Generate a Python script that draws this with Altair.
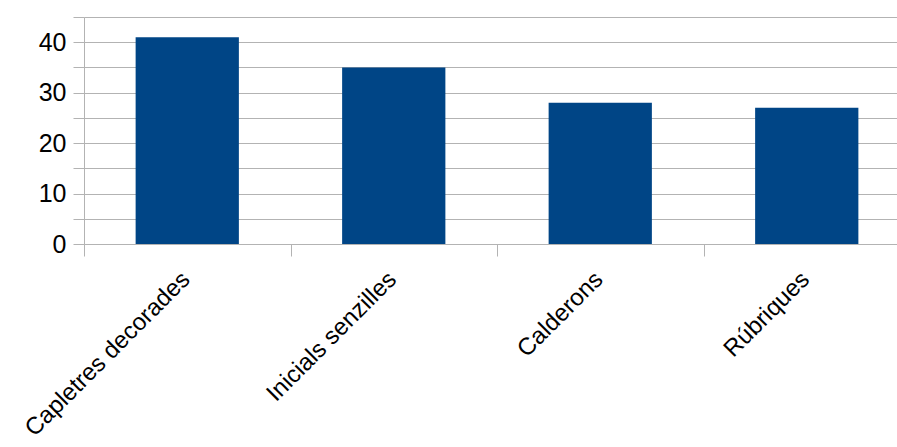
import altair as alt
import pandas as pd

categories = ["Capletres decorades", "Inicials senzilles", "Calderons", "Rúbriques"]
values = [41, 35, 28, 27]
y_ticks = [0, 5, 10, 15, 20, 25, 30, 35, 40, 45]

df = pd.DataFrame({"cat": categories, "val": values})

GRID = "#b3b3b3"
FONT = "Liberation Sans"

chart = alt.Chart(df).mark_bar(color="#004586", width={"band": 0.5}).encode(
    x=alt.X(
        "cat:N",
        sort=categories,
        scale=alt.Scale(range=[0, 826], paddingInner=0, paddingOuter=0),
        axis=alt.Axis(
            title=None,
            labelAngle=315,
            labelAlign="right",
            labelBaseline="top",
            tickBand="extent",
            labelFont=FONT,
            labelFontSize=24,
            labelColor="black",
            labelLimit=0,
            labelOffset=-10,
            domainColor=GRID,
            tickColor=GRID,
            tickSize=12,
            labelPadding=11,
            grid=False,
        ),
    ),
    y=alt.Y(
        "val:Q",
        scale=alt.Scale(domain=[0, 45], nice=False),
        axis=alt.Axis(
            title=None,
            values=y_ticks,
            labelExpr="datum.value % 10 == 0 ? datum.label : ''",
            grid=True,
            gridColor=GRID,
            domainColor=GRID,
            tickColor=GRID,
            tickSize=11,
            labelFont=FONT,
            labelFontSize=25,
            labelColor="black",
            labelPadding=7,
        ),
    ),
).properties(
    width=813,
    height=227,
    autosize=alt.AutoSizeParams(type="none"),
    padding={"left": 84, "top": 17, "right": 0, "bottom": 203},
).configure_view(stroke=None)

chart.save("out.html", embed_options={"renderer": "svg", "actions": False})
